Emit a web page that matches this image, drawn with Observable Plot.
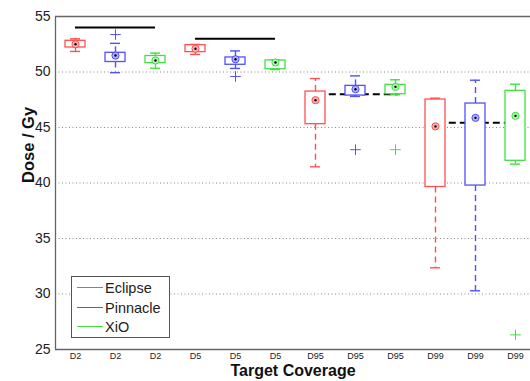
<!DOCTYPE html>
<html>
<head>
<meta charset="utf-8">
<script src="https://cdn.jsdelivr.net/npm/d3@7"></script>
<script src="https://cdn.jsdelivr.net/npm/@observablehq/plot@0.6"></script>
<style>
  body { margin: 0; background: #fff; }
  #wrap { position: relative; width: 530px; height: 381px; font-family: "Liberation Sans", Arial, sans-serif; }
  #legend { position: absolute; left: 71px; top: 276px; width: 97px; height: 60px; border: 1px solid #555; background: #fff; }
  #legend .row { position: absolute; left: 0; height: 20px; font-size: 14.5px; color: #222; line-height: 20px; }
  #legend .sw { position: absolute; left: 5px; top: 9px; width: 26px; height: 0; border-top-width: 1.5px; border-top-style: solid; }
  #legend .lab { position: absolute; left: 33px; top: 0; white-space: nowrap; }
</style>
</head>
<body>
<div id="wrap"></div>
<script>
const categories = ["D2","D2","D2","D5","D5","D5","D95","D95","D95","D99","D99","D99"];
const systems = ["Eclipse","Pinnacle","XiO","Eclipse","Pinnacle","XiO","Eclipse","Pinnacle","XiO","Eclipse","Pinnacle","XiO"];
const medians = [52.5, 51.48, 51.04, 52.09, 51.15, 50.86, 47.46, 48.45, 48.66, 45.1, 45.87, 46.05];
const q1 = [52.21, 50.9, 50.8, 51.79, 50.65, 50.25, 45.3, 47.88, 48.0, 39.64, 39.77, 42.0];
const q3 = [52.81, 51.73, 51.44, 52.42, 51.31, 51.04, 48.24, 48.75, 48.84, 47.52, 47.16, 48.3];
const lowerWhisker = [51.85, 49.94, 50.34, 51.58, 50.32, 50.22, 41.46, 47.8, 47.95, 32.36, 30.29, 41.7];
const upperWhisker = [52.99, 52.58, 51.7, 52.48, 51.9, 51.1, 49.41, 49.65, 49.3, 47.64, 49.26, 48.9];
const outlierBox = [2, 5, 8, 9, 12];
const outlierValue = [53.37, 49.6, 43.0, 43.0, 26.32];
const refValue = [54, 53, 48.0, 45.42];
const refFrom = [1, 4, 7, 10];
const refTo = [3, 6, 9, 12];
const refDashed = [false, false, true, true];
const yTicks = [25, 30, 35, 40, 45, 50, 55];
const gridValues = [30, 35, 40, 45, 50];

const colors = {Eclipse: "#ff5050", Pinnacle: "#5050ff", XiO: "#40e040"};
const fills = {Eclipse: "#ffb0b0", Pinnacle: "#b0b0ff", XiO: "#b0f0b0"};

const boxes = categories.map((c, k) => ({
  i: k + 1, cat: c, sys: systems[k], med: medians[k], q1: q1[k], q3: q3[k],
  lo: lowerWhisker[k], hi: upperWhisker[k]
}));
const outliers = outlierBox.map((b, k) => ({i: b, v: outlierValue[k], sys: systems[b - 1]}));
const refs = refValue.map((v, k) => ({v, x1: refFrom[k], x2: refTo[k], dashed: refDashed[k]}));

const hw = 0.25, cw = 0.125;
const col = d => colors[d.sys];

const plot = Plot.plot({
  width: 530,
  height: 381,
  marginLeft: 55,
  marginRight: 0,
  marginTop: 16,
  marginBottom: 32,
  style: {fontFamily: "Liberation Sans, Arial, sans-serif", background: "transparent"},
  x: {type: "linear", domain: [0.5, 12.5], range: [55, 535]},
  y: {domain: [25, 55], range: [349, 16]},
  marks: [
    Plot.ruleY(gridValues, {x1: 0.5, x2: 12.5, stroke: "#888", strokeDasharray: "1,2.5", strokeWidth: 1}),
    // frame
    Plot.ruleY([25, 55], {x1: 0.5, x2: 12.5, stroke: "#666", strokeWidth: 1.3}),
    Plot.ruleX([0.5], {y1: 25, y2: 55, stroke: "#666", strokeWidth: 1.3}),
    // reference lines
    Plot.ruleY(refs.filter(d => !d.dashed), {y: "v", x1: "x1", x2: "x2", stroke: "#000", strokeWidth: 2}),
    Plot.ruleY(refs.filter(d => d.dashed), {y: "v", x1: d => d.x1 + 0.07, x2: d => d.x2 + 0.07, stroke: "#000", strokeWidth: 2, strokeDasharray: "7,4"}),
    // whiskers
    Plot.ruleX(boxes, {x: "i", y1: "q3", y2: "hi", stroke: col, strokeDasharray: "6,4", strokeWidth: 1.4}),
    Plot.ruleX(boxes, {x: "i", y1: "q1", y2: "lo", stroke: col, strokeDasharray: "6,4", strokeWidth: 1.4}),
    // caps
    Plot.ruleY(boxes, {y: "hi", x1: d => d.i - cw, x2: d => d.i + cw, stroke: col, strokeWidth: 1.4}),
    Plot.ruleY(boxes, {y: "lo", x1: d => d.i - cw, x2: d => d.i + cw, stroke: col, strokeWidth: 1.4}),
    // boxes
    Plot.rect(boxes, {x1: d => d.i - hw, x2: d => d.i + hw, y1: "q1", y2: "q3", fill: "white", stroke: col, strokeWidth: 1.3}),
    // outliers
    Plot.dot(outliers, {x: "i", y: "v", symbol: "plus", r: 3.5, stroke: col, strokeWidth: 1}),
    // median target
    Plot.dot(boxes, {x: "i", y: "med", r: 3.6, stroke: col, fill: d => fills[d.sys], strokeWidth: 1}),
    Plot.dot(boxes, {x: "i", y: "med", r: 1.2, fill: "#000"}),
    // axes
    Plot.axisY(yTicks, {tickSize: 0, tickPadding: 5, fontSize: 14, fill: "#222", label: null}),
    Plot.axisX(d3.range(1, 13), {tickSize: 0, tickPadding: 3, fontSize: 9, fill: "#222", tickFormat: v => categories[v - 1], label: null}),
    Plot.text(["Dose / Gy"], {frameAnchor: "left", dx: -27, rotate: -90, fontSize: 16.5, fontWeight: "bold", fill: "#111"}),
    Plot.text(["Target Coverage"], {frameAnchor: "bottom", dy: 21, lineAnchor: "middle", fontSize: 16, fontWeight: "bold", fill: "#111"})
  ]
});

const wrap = document.getElementById("wrap");
wrap.appendChild(plot);

const legend = document.createElement("div");
legend.id = "legend";
["Eclipse", "Pinnacle", "XiO"].forEach((s, k) => {
  const row = document.createElement("div");
  row.className = "row";
  row.style.top = (1 + k * 19.5) + "px";
  row.style.width = "95px";
  const sw = document.createElement("div");
  sw.className = "sw";
  sw.style.borderTopColor = colors[s];
  const lab = document.createElement("span");
  lab.className = "lab";
  lab.textContent = s;
  row.appendChild(sw);
  row.appendChild(lab);
  legend.appendChild(row);
});
wrap.appendChild(legend);
</script>
</body>
</html>
